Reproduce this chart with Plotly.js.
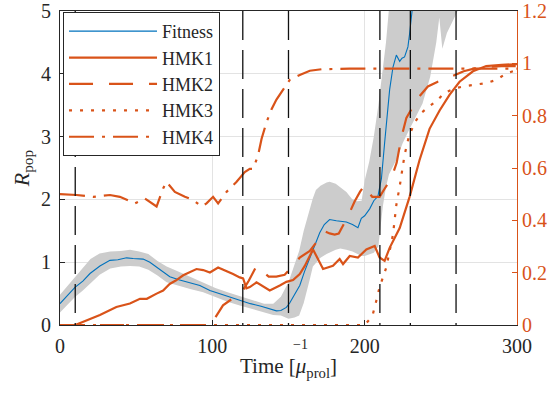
<!DOCTYPE html>
<html><head><meta charset="utf-8">
<script src="https://cdn.plot.ly/plotly-3.0.1.min.js"></script>
<style>html,body{margin:0;padding:0;background:#fff}</style>
</head><body><div id="chart" style="width:550px;height:396px"></div>
<script>
// ---- data ----
const fitnessT = [0,5,9.8,15,19.7,26.2,32.8,38,43.7,48,54.6,59,63.4,68,72.1,78,83.1,91.8,98.4,105,112,118,125,132,139.9,142.1,145,148.6,150.8,154,157.4,160.5,164,167,170.5,173.5,177,181.4,185,188,192,195.6,197.8,200,203.3,206,208.7,211,213.1,214.8,216.4,218.6,220.8,223,224.5,226.2,228.4,229.5,230.6,232];
const fitness = [0.34,0.48,0.6,0.7,0.82,0.94,1.03,1.04,1.07,1.06,1.05,1.0,0.92,0.84,0.77,0.72,0.69,0.63,0.55,0.5,0.44,0.39,0.34,0.3,0.25,0.225,0.23,0.28,0.35,0.48,0.63,0.85,1.07,1.28,1.47,1.6,1.68,1.66,1.65,1.64,1.6,1.55,1.7,1.74,1.85,1.98,2.05,2.33,2.9,3.3,3.75,4.11,4.3,4.2,4.25,4.27,4.43,4.64,4.85,5.2];

const bandT = [0,5,10,15,20,26,33,40,46,52,58,64,70,78,86,94,102,110,118,126,134,140,145,150,154,157,160,162,164,166,168,171,175,177,181,184,188,192,195,198,200,203,206,209,212,214,216,221,225,229,234,238,243,247,249,251,254,258,262,266];
const bandUpper = [0.48,0.62,0.76,0.9,1.05,1.14,1.17,1.18,1.2,1.17,1.13,1.02,0.93,0.85,0.76,0.67,0.59,0.52,0.46,0.39,0.34,0.34,0.45,0.68,0.95,1.18,1.5,1.68,1.86,2.02,2.15,2.22,2.27,2.28,2.25,2.2,2.12,2.0,1.97,1.98,2.3,2.6,3.0,3.5,4.1,4.5,5.05,6,6,6,6,6,6,6,6,6,6,6,6,6];
const bandLower = [0.2,0.33,0.45,0.55,0.66,0.8,0.9,0.93,0.94,0.93,0.88,0.79,0.68,0.62,0.57,0.52,0.44,0.37,0.31,0.25,0.2,0.16,0.15,0.1,0.12,0.15,0.35,0.55,0.73,0.93,0.98,1.07,1.13,1.16,1.2,1.22,1.2,1.17,1.14,1.1,1.1,1.12,1.15,1.25,1.9,2.2,2.4,2.64,2.9,3.1,3.35,3.53,3.95,4.5,4.9,4.4,4.65,4.85,5.05,6];

const hmk1T = [10,17.5,26.2,37,45.9,52.5,57,63.4,67.7,72,76,80.9,89.6,94,98.4,103.8,109.3,113.6,118,120.2,122.4,124.6,129,133,137.7,144.3,148.6,153,157.4,160.7,166.1,172.7,179.2,183.6,185.8,190.2,195.6,201.1,206.6,209.8,213.1,216.4,223,229.5,236,242.6,249.2,255.7,262.3,271.1,279.8,290,300];
const hmk1 = [0,0.019,0.038,0.069,0.082,0.10,0.10,0.12,0.132,0.157,0.17,0.19,0.214,0.21,0.201,0.22,0.207,0.195,0.182,0.178,0.14,0.145,0.163,0.15,0.132,0.151,0.165,0.172,0.195,0.226,0.289,0.214,0.226,0.252,0.233,0.264,0.258,0.289,0.302,0.258,0.245,0.295,0.371,0.49,0.63,0.75,0.82,0.88,0.93,0.97,0.99,0.995,0.997];

const hmk2T = [0,99,101,104,107,113,120,124,129,133,137,142,147.5,152,157.4,164,169,173.8,177,180.3,183,189,193.4,197,200,202.2,205,209.8,213,217.5,221,224.1,227.4,231,235,241.5,248,257.9,265,275,290,300];
const hmk2 = [0,0,0.02,0.05,0.075,0.1,0.132,0.17,0.226,0.205,0.185,0.185,0.192,0.22,0.258,0.283,0.32,0.358,0.35,0.346,0.35,0.415,0.472,0.51,0.535,0.509,0.49,0.49,0.52,0.56,0.62,0.717,0.792,0.83,0.868,0.912,0.93,0.952,0.97,0.985,0.99,0.99];

const hmk3T = [0,200,203,205.5,207.7,209.8,212,214.2,216.4,218.6,220.8,223,226.2,229,232.8,237.2,242.6,247,252.4,259,266.7,273,279.8,286.4,293,300];
const hmk3 = [0,0,0.02,0.044,0.094,0.145,0.182,0.22,0.283,0.346,0.459,0.53,0.65,0.72,0.774,0.811,0.837,0.855,0.887,0.905,0.914,0.92,0.925,0.937,0.962,0.975];

const hmk4T = [0,3.3,10.9,21.8,32.8,39.3,44,49.2,55.7,60.1,63.4,67.7,69.9,75.4,82,87.4,92.9,96.2,100.5,103.8,109.3,115.8,121.3,124.6,126.8,130,132.3,135.5,138.8,142.1,146.4,150.8,157.4,164,172,180,190,200,220,250,280,300];
const hmk4 = [0.5,0.499,0.497,0.49,0.497,0.49,0.478,0.465,0.484,0.465,0.453,0.522,0.547,0.509,0.49,0.478,0.453,0.465,0.49,0.465,0.509,0.547,0.585,0.597,0.597,0.648,0.711,0.774,0.824,0.862,0.9,0.937,0.956,0.972,0.978,0.98,0.98,0.98,0.98,0.98,0.98,0.98];

const eventTimes = [10,120,150,210,230,260];
const seriesNames = ['Fitness','HMK1','HMK2','HMK3','HMK4'];
const xTicks = [0,100,200,300];
const yTicks = [0,1,2,3,4,5];
const y2Ticks = [0,0.2,0.4,0.6,0.8,1,1.2];

// ---- styles ----
const BLUE = '#0072BD', ORANGE = '#D95319', AX = '#262626';
const FONT = 'Liberation Serif, Times New Roman, serif';

const traces = [
  {x: bandT.concat(bandT.slice().reverse()),
   y: bandUpper.concat(bandLower.slice().reverse()),
   type:'scatter', mode:'lines', fill:'toself', fillcolor:'#cccccc',
   line:{width:0, color:'#cccccc'}, showlegend:false, hoverinfo:'skip'},
  {x: fitnessT, y: fitness, name: seriesNames[0], type:'scatter', mode:'lines',
   line:{color:BLUE, width:1.1}},
  {x: hmk1T, y: hmk1, name: seriesNames[1], yaxis:'y2', type:'scatter', mode:'lines',
   line:{color:ORANGE, width:2.2}},
  {x: hmk2T, y: hmk2, name: seriesNames[2], yaxis:'y2', type:'scatter', mode:'lines',
   line:{color:ORANGE, width:2.2, dash:'24px,16px'}},
  {x: hmk3T, y: hmk3, name: seriesNames[3], yaxis:'y2', type:'scatter', mode:'lines',
   line:{color:ORANGE, width:2.2, dash:'3px,8px'}},
  {x: hmk4T, y: hmk4, name: seriesNames[4], yaxis:'y2', type:'scatter', mode:'lines',
   line:{color:ORANGE, width:2.2, dash:'25px,8px,3px,8px'}}
];

const shapes = eventTimes.map(t => ({
  type:'line', xref:'x', yref:'paper', x0:t, x1:t, y0:1, y1:0, layer:'above',
  line:{color:'#111111', width:1.3, dash:'29px,10px'}
}));

const layout = {
  width:550, height:396,
  margin:{l:60, r:33, t:11, b:71},
  paper_bgcolor:'#fff', plot_bgcolor:'#fff',
  font:{family:FONT, color:AX, size:20},
  showlegend:true,
  legend:{x:0.0066, y:0.997, xanchor:'left', yanchor:'top',
    bgcolor:'#fff', bordercolor:AX, borderwidth:1,
    font:{family:FONT, size:18, color:AX}, itemwidth:88, tracegroupgap:0},
  xaxis:{range:[0,300.01], tickvals:xTicks, ticks:'inside', ticklen:5, tickcolor:AX,
    showline:true, linecolor:AX, linewidth:1, mirror:true,
    showgrid:true, gridcolor:'#e3e3e3', zeroline:false, ticklabeloverflow:'allow',
    ticklabelstandoff:3,
    tickfont:{family:FONT, size:20, color:AX},
    title:{text:'Time [<i>μ</i><sub>prol</sub>]', font:{family:FONT, size:21, color:AX}, standoff:2}},
  yaxis:{range:[0,5.002], tickvals:yTicks, ticks:'inside', ticklen:5, tickcolor:AX,
    showline:true, linecolor:AX, linewidth:1, ticklabeloverflow:'allow',
    ticklabelstandoff:4,
    showgrid:true, gridcolor:'#e3e3e3', zeroline:false,
    tickfont:{family:FONT, size:20, color:AX},
    title:{text:'<i>R</i><sub>pop</sub>', font:{family:FONT, size:22, color:AX}, standoff:5}},
  yaxis2:{range:[0,1.2005], tickvals:y2Ticks, overlaying:'y', side:'right', ticks:'inside', ticklen:5,
    tickcolor:ORANGE, showline:true, linecolor:ORANGE, linewidth:1, ticklabeloverflow:'allow',
    showgrid:false, zeroline:false,
    tickfont:{family:FONT, size:20, color:ORANGE}},
  shapes: shapes,
  annotations:[{text:'−1', xref:'paper', yref:'paper', x:0.505, y:-0.062,
    xanchor:'left', yanchor:'middle', showarrow:false,
    font:{family:FONT, size:14, color:AX}}]
};

Plotly.newPlot('chart', traces, layout, {displayModeBar:false, staticPlot:true});
</script></body></html>
